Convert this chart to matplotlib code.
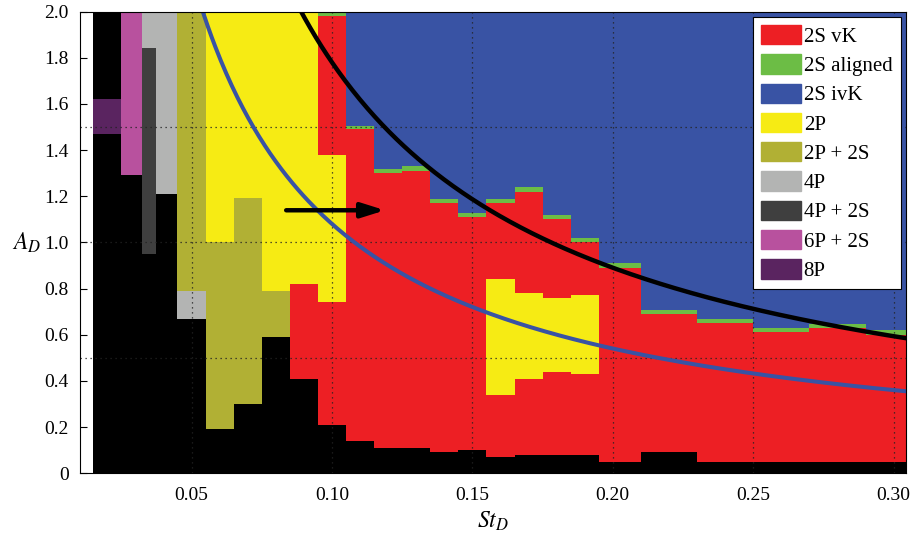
import numpy as np
import matplotlib
matplotlib.use("Agg")
import matplotlib.pyplot as plt
from matplotlib.patches import Patch

plt.rcParams["font.family"] = ["Liberation Serif", "DejaVu Serif"]
plt.rcParams["mathtext.fontset"] = "stix"

# Regimes and colours
regimes = ["2S vK", "2S aligned", "2S ivK", "2P", "2P + 2S", "4P", "4P + 2S", "6P + 2S", "8P"]
regime_colors = ["#ED1F24", "#6CBD45", "#3953A4", "#F6EB14", "#B1B034",
                 "#B3B4B3", "#3F3F3F", "#B8519E", "#5A2460"]
none_color = "#000000"  # no shedding / no data

# Low St columns: segments bottom-up as (regime, upper A_D)
st_low = [0.02, 0.03, 0.035, 0.04, 0.05, 0.06, 0.07, 0.08, 0.09, 0.10]
stacks_low = [
    [("none", 1.47), ("8P", 1.62), ("none", 2.0)],
    [("none", 1.29), ("6P + 2S", 2.0)],
    [("none", 0.95), ("4P + 2S", 1.84), ("4P", 2.0)],
    [("none", 1.21), ("4P", 2.0)],
    [("none", 0.67), ("4P", 0.79), ("2P + 2S", 2.0)],
    [("none", 0.19), ("2P + 2S", 1.00), ("2P", 2.0)],
    [("none", 0.30), ("2P + 2S", 1.19), ("2P", 2.0)],
    [("none", 0.59), ("2P + 2S", 0.79), ("2P", 2.0)],
    [("none", 0.41), ("2S vK", 0.82), ("2P", 2.0)],
    [("none", 0.21), ("2S vK", 0.74), ("2P", 1.38), ("2S vK", 1.98), ("2S aligned", 2.0)],
]

# High St columns: none -> 2S vK -> 2S aligned -> 2S ivK
st_high = [0.11, 0.12, 0.13, 0.14, 0.15, 0.16, 0.17, 0.18, 0.19, 0.20,
           0.22, 0.24, 0.26, 0.28, 0.30]
none_top_high = [0.14, 0.11, 0.11, 0.09, 0.10, 0.07, 0.08, 0.08, 0.08, 0.05,
                 0.09, 0.05, 0.05, 0.05, 0.05]
vk_top_high = [1.49, 1.30, 1.31, 1.17, 1.11, 1.17, 1.22, 1.10, 1.00, 0.89,
               0.69, 0.65, 0.61, 0.63, 0.60]
aligned_top_high = [1.505, 1.318, 1.329, 1.187, 1.129, 1.187, 1.238, 1.118, 1.019, 0.909,
                    0.709, 0.667, 0.628, 0.647, 0.62]

# 2P island inside the 2S vK region
st_island = [0.16, 0.17, 0.18, 0.19]
island_low = [0.34, 0.41, 0.44, 0.43]
island_high = [0.84, 0.78, 0.76, 0.77]

# Constant A_D * St_D reference curves
black_curve_k = 0.178
blue_curve_k = 0.108

# Arrow
arrow_start = (0.0837, 1.139)
arrow_end = (0.1189, 1.139)

color_of = dict(zip(regimes, regime_colors))
color_of["none"] = none_color

# column edges (midpoints between sampled St)
st_all = np.array(st_low + st_high)
mids = (st_all[1:] + st_all[:-1]) / 2
edges = np.concatenate([[st_all[0] - (mids[0] - st_all[0])], mids,
                        [st_all[-1] + (st_all[-1] - mids[-1])]])
left = dict(zip(st_all.round(4), edges[:-1]))
width = dict(zip(st_all.round(4), np.diff(edges)))

fig = plt.figure(figsize=(9.2, 5.33), dpi=100)
ax = fig.add_axes([0.087, 0.1122, 0.8978, 0.8662])


def draw_bar(st, y0, y1, color):
    k = round(st, 4)
    ax.bar(left[k], y1 - y0, bottom=y0, width=width[k], align="edge",
           color=color, linewidth=0, antialiased=False, zorder=1)


for st, stack in zip(st_low, stacks_low):
    y0 = 0.0
    for name, top in stack:
        draw_bar(st, y0, top, color_of[name])
        y0 = top

for st, a, b, c in zip(st_high, none_top_high, vk_top_high, aligned_top_high):
    draw_bar(st, 0.0, a, none_color)
    draw_bar(st, a, b, color_of["2S vK"])
    draw_bar(st, b, c, color_of["2S aligned"])
    draw_bar(st, c, 2.0, color_of["2S ivK"])

for st, lo, hi in zip(st_island, island_low, island_high):
    draw_bar(st, lo, hi, color_of["2P"])

# dotted grid
for xv in [0.05, 0.10, 0.15, 0.20, 0.25, 0.30]:
    ax.axvline(xv, color="#222222", ls=(0, (1, 3)), lw=0.9, zorder=2)
for yv in [0.5, 1.0, 1.5]:
    ax.axhline(yv, color="#222222", ls=(0, (1, 3)), lw=0.9, zorder=2)

# curves
st_line = np.linspace(0.05, 0.31, 400)
ax.plot(st_line, black_curve_k / st_line, color="black", lw=3.2, zorder=3)
ax.plot(st_line, blue_curve_k / st_line, color="#3953A4", lw=2.9, zorder=3)

ax.annotate("", xy=arrow_end, xytext=arrow_start,
            arrowprops=dict(arrowstyle="-|>,head_length=0.7,head_width=0.22",
                            mutation_scale=20, lw=3.2, color="black",
                            shrinkA=0, shrinkB=0), zorder=4)

ax.set_xlim(0.0103, 0.3044)
ax.set_ylim(0, 2.0)
ax.set_xticks([0.05, 0.10, 0.15, 0.20, 0.25, 0.30])
ax.set_xticklabels(["0.05", "0.10", "0.15", "0.20", "0.25", "0.30"])
yt = np.arange(0, 2.01, 0.2)
ax.set_yticks(yt)
ax.set_yticklabels(["0"] + [f"{v:.1f}" for v in yt[1:]])
ax.tick_params(axis="x", length=0, pad=10, labelsize=14)
ax.tick_params(axis="y", direction="in", length=5, width=0.8, pad=8, labelsize=14)
for s in ax.spines.values():
    s.set_linewidth(0.8)
    s.set_zorder(5)

ax.set_xlabel(r"$St_D$", fontsize=17, labelpad=4)
ax.set_ylabel(r"$A_D$", fontsize=17, rotation=0, labelpad=13, va="center")

handles = [Patch(facecolor=c, edgecolor=c, label=r) for r, c in zip(regimes, regime_colors)]
leg = ax.legend(handles=handles, loc="upper right", fontsize=15, frameon=True,
                fancybox=False, framealpha=1, edgecolor="black",
                handlelength=1.9, handleheight=1.05, labelspacing=0.36,
                handletextpad=0.15, borderpad=0.4, borderaxespad=0.25)
leg.get_frame().set_linewidth(0.8)
leg.set_zorder(10)

fig.savefig("out.png", dpi=100, facecolor="white")
